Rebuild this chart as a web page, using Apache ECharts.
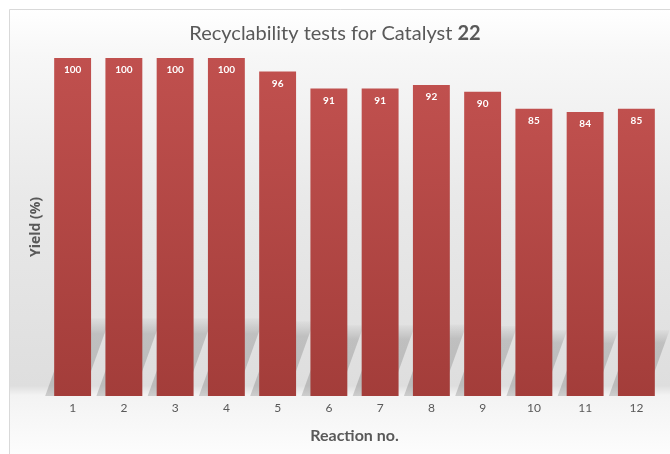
<!DOCTYPE html>
<html>
<head>
<meta charset="utf-8">
<script src="https://cdn.jsdelivr.net/npm/echarts@6/dist/echarts.min.js"></script>
<style>
html,body{margin:0;padding:0;background:#fff;}
#chart{width:670px;height:454px;}
</style>
</head>
<body>
<div id="chart"></div>
<script>
var categories = ['1','2','3','4','5','6','7','8','9','10','11','12'];
var yields = [100, 100, 100, 100, 96, 91, 91, 92, 90, 85, 84, 85];
var titleText = 'Recyclability tests for Catalyst ';
var titleBold = '22';
var xName = 'Reaction no.';
var yName = 'Yield (%)';

var chart = echarts.init(document.getElementById('chart'), null, {renderer: 'canvas'});

var shadowData = yields.map(function (v, i) { return [i, v]; });

var option = {
  animation: false,
  backgroundColor: '#ffffff',
  graphic: [{
    type: 'rect',
    z: -10,
    silent: true,
    shape: {x: 9.5, y: 9.5, width: 700, height: 470},
    style: {
      stroke: '#d9d9d9',
      lineWidth: 1,
      fill: {
        type: 'linear', x: 0, y: 0, x2: 0, y2: 1,
        colorStops: [
          {offset: 0, color: '#ffffff'},
          {offset: 0.1, color: '#f7f7f7'},
          {offset: 0.4, color: '#e9e9e9'},
          {offset: 0.8, color: '#dedede'},
          {offset: 0.82, color: '#f3f3f3'},
          {offset: 0.95, color: '#fdfdfd'},
          {offset: 1, color: '#ffffff'}
        ]
      }
    }
  }],
  title: {
    text: '{n|' + titleText + '}{b|' + titleBold + '}',
    left: 'center',
    top: 19,
    textStyle: {
      fontWeight: 'normal',
      rich: {
        n: {fontFamily: 'Lato', fontSize: 20, fontWeight: 'normal', color: '#595959'},
        b: {fontFamily: 'Lato', fontSize: 20, fontWeight: 'bold', color: '#595959'}
      }
    }
  },
  grid: {left: 47, right: 8, top: 58, bottom: 58, containLabel: false},
  xAxis: {
    type: 'category',
    data: categories,
    name: xName,
    nameLocation: 'middle',
    nameGap: 32,
    nameTextStyle: {fontFamily: 'Lato', fontSize: 16, fontWeight: 'bold', color: '#595959'},
    axisLine: {show: false},
    axisTick: {show: false},
    axisLabel: {fontFamily: 'Lato', fontSize: 12, color: '#595959', margin: 6}
  },
  yAxis: {
    type: 'value',
    min: 0,
    max: 100,
    name: yName,
    nameLocation: 'middle',
    nameGap: 4,
    nameRotate: 90,
    nameTextStyle: {fontFamily: 'Open Sans', fontSize: 14, fontWeight: 'bold', color: '#595959'},
    axisLine: {show: false},
    axisTick: {show: false},
    axisLabel: {show: false},
    splitLine: {show: false}
  },
  series: [
    {
      type: 'custom',
      z: 1,
      silent: true,
      data: shadowData,
      renderItem: function (params, api) {
        var i = api.value(0);
        var v = api.value(1);
        var base = api.coord([i, 0]);
        var top = api.coord([i, v]);
        var w = api.size([1, 0])[0] * 0.72;
        var barH = base[1] - top[1];
        var h = barH * 0.23;
        var dx = h * 0.36;
        var off = 9;
        var x0 = base[0] - w / 2 - off;
        var x1 = base[0] + w / 2 - off;
        return {
          type: 'polygon',
          shape: {points: [[x0, base[1]], [x1, base[1]], [x1 + dx, base[1] - h], [x0 + dx, base[1] - h]]},
          style: {
            fill: {
              type: 'linear', x: 0, y: 1, x2: 0, y2: 0,
              colorStops: [
                {offset: 0, color: 'rgba(0,0,0,0.16)'},
                {offset: 0.8, color: 'rgba(0,0,0,0.15)'},
                {offset: 1, color: 'rgba(0,0,0,0.02)'}
              ]
            }
          }
        };
      }
    },
    {
      type: 'bar',
      z: 2,
      data: yields,
      barWidth: '72%',
      itemStyle: {
        color: {
          type: 'linear', x: 0, y: 0, x2: 0, y2: 1,
          colorStops: [
            {offset: 0, color: '#c0504e'},
            {offset: 1, color: '#a33d3a'}
          ]
        }
      },
      label: {
        show: true,
        position: 'insideTop',
        distance: 7,
        fontFamily: 'Lato',
        fontSize: 10,
        fontWeight: 'bold',
        color: '#ffffff'
      }
    }
  ]
};
chart.setOption(option);
</script>
</body>
</html>
